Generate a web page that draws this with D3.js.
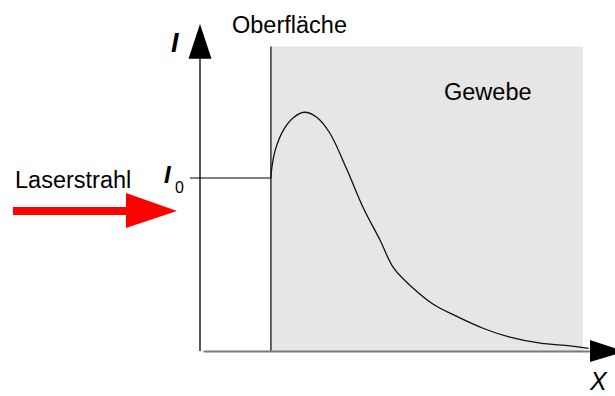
<!DOCTYPE html>
<html>
<head>
<meta charset="utf-8">
<script src="https://cdn.jsdelivr.net/npm/d3@7"></script>
<style>
  html, body { margin: 0; padding: 0; background: #fff; }
  svg { display: block; font-family: "Liberation Sans", Arial, sans-serif; }
</style>
</head>
<body>
<svg id="chart" width="615" height="396"></svg>
<script>
// ---- data ----
const depth     = [0, 0.01, 0.06, 0.18, 0.32, 0.47, 0.65, 0.83, 1.07, 1.30, 1.54, 1.73, 1.96, 2.29, 2.57, 3.00, 3.37, 3.80, 4.22, 4.48];
const intensity = [1.00, 1.05, 1.16, 1.28, 1.35, 1.38, 1.35, 1.26, 1.05, 0.83, 0.64, 0.48, 0.38, 0.27, 0.21, 0.13, 0.08, 0.045, 0.03, 0.015];
const I0 = 1.0;
const tissueExtent = [0, 4.40];   // depth range of tissue (Gewebe)
const tissueTop = 1.76;
const labels = { surface: "Oberfläche", tissue: "Gewebe", laser: "Laserstrahl", yLabel: "I", i0: "I", i0sub: "0", xLabel: "X" };

// ---- scales ----
const x = d3.scaleLinear().domain([-1, 4.5]).range([200, 590]);
const y = d3.scaleLinear().domain([0, 1]).range([351, 178]);

const svg = d3.select("#chart");

// tissue background
svg.append("rect")
  .attr("x", x(tissueExtent[0])).attr("y", y(tissueTop))
  .attr("width", x(tissueExtent[1]) - x(tissueExtent[0]))
  .attr("height", y(0) - y(tissueTop))
  .attr("fill", "#e6e6e6");

// surface line
svg.append("line")
  .attr("x1", x(0)).attr("x2", x(0))
  .attr("y1", y(tissueTop)).attr("y2", y(0))
  .attr("stroke", "#000").attr("stroke-width", 1.2);

// y axis
svg.append("line")
  .attr("x1", x(-1)).attr("x2", x(-1))
  .attr("y1", y(1.69)).attr("y2", y(0))
  .attr("stroke", "#222").attr("stroke-width", 1.5);
svg.append("path")
  .attr("d", `M${x(-1)},${y(1.89)} L${x(-1) - 11.5},${y(1.69)} L${x(-1) + 11.5},${y(1.69)} Z`)
  .attr("fill", "#000");

// x axis
svg.append("line")
  .attr("x1", x(-0.95)).attr("x2", x(4.5))
  .attr("y1", y(0) + 0.5).attr("y2", y(0) + 0.5)
  .attr("stroke", "#7a7a7a").attr("stroke-width", 2.2);
svg.append("path")
  .attr("d", `M${x(4.5)},${y(0) - 11} L${x(4.5) + 35},${y(0) + 0.5} L${x(4.5)},${y(0) + 11} Z`)
  .attr("fill", "#000");

// I0 level line
svg.append("line")
  .attr("x1", x(-1) - 10).attr("x2", x(0))
  .attr("y1", y(I0)).attr("y2", y(I0))
  .attr("stroke", "#000").attr("stroke-width", 1.2);

// intensity curve
const pts = depth.map((d, i) => [d, intensity[i]]);
svg.append("path")
  .datum(pts)
  .attr("d", d3.line().x(d => x(d[0])).y(d => y(d[1])).curve(d3.curveCatmullRom.alpha(0.5)))
  .attr("fill", "none").attr("stroke", "#111").attr("stroke-width", 1.3);

// laser arrow
svg.append("rect")
  .attr("x", 13).attr("y", 207).attr("width", 114).attr("height", 8)
  .attr("fill", "#ff0000");
svg.append("path")
  .attr("d", "M126,193 L177,211 L126,228 Z")
  .attr("fill", "#ff0000");

// texts
svg.append("text").attr("x", 232).attr("y", 33).attr("font-size", 23.5).text(labels.surface);
svg.append("text").attr("x", 444).attr("y", 100).attr("font-size", 23.5).text(labels.tissue);
svg.append("text").attr("x", 15).attr("y", 188).attr("font-size", 23.5).text(labels.laser);

svg.append("text").attr("x", 171).attr("y", 52).attr("font-size", 27)
  .attr("font-style", "italic").attr("font-weight", "bold").text(labels.yLabel);
svg.append("text").attr("x", 164).attr("y", 183).attr("font-size", 24)
  .attr("font-style", "italic").attr("font-weight", "bold").text(labels.i0);
svg.append("text").attr("x", 175).attr("y", 193).attr("font-size", 16).text(labels.i0sub);
svg.append("text").attr("x", 590).attr("y", 390).attr("font-size", 25)
  .attr("font-style", "italic").text(labels.xLabel);
</script>
</body>
</html>
